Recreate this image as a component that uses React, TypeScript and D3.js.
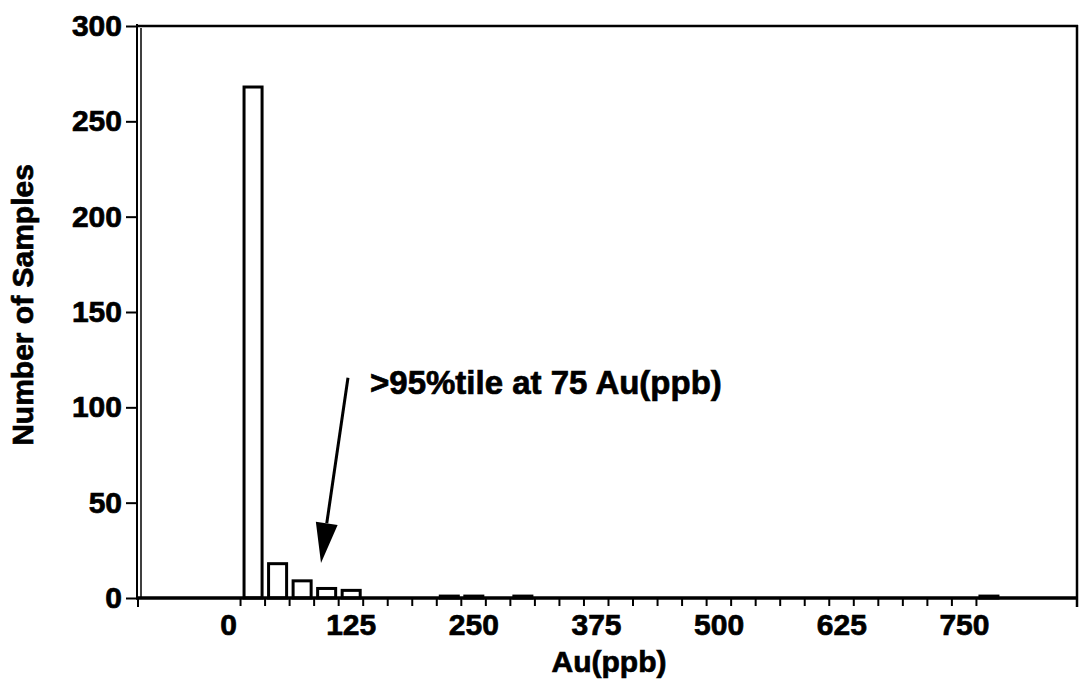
import React, { useEffect, useRef } from 'react'
import * as d3 from 'd3'

// histogram bins (lower edge, ppb) and counts
const binStarts = [0, 25, 50, 75, 100, 200, 225, 275, 750]
const counts = [268, 18, 9, 5, 4, 1, 1, 1, 1]
const binWidth = 25

const xTickValues = d3.range(0, 751, 25)
const xLabelValues = [0, 125, 250, 375, 500, 625, 750]
const yTickValues = [0, 50, 100, 150, 200, 250, 300]

// annotation, in data units
const noteText = '>95%tile at 75 Au(ppb)'
const noteAt = { x: 132.5, y: 107 }
const arrowFrom = { x: 110, y: 115.5 }
const arrowTo = { x: 82.5, y: 18.4 }

const font = '"Liberation Sans", Arial, sans-serif'

const App = () => {
  const ref = useRef<SVGSVGElement>(null)

  useEffect(() => {
    const svg = d3.select(ref.current)
    svg.selectAll('*').remove()

    const x = d3.scaleLinear().domain([-104, 853]).range([138, 1077])
    const y = d3.scaleLinear().domain([0, 300]).range([598, 26])

    const data = binStarts.map((b, i) => ({ start: b, count: counts[i] }))

    // bars
    svg.append('g')
      .selectAll('rect')
      .data(data)
      .join('rect')
        .attr('x', d => x(d.start) + 4)
        .attr('y', d => y(d.count))
        .attr('width', d => x(d.start + binWidth) - x(d.start) - 6.5)
        .attr('height', d => y(0) - y(d.count))
        .attr('fill', '#fff')
        .attr('stroke', '#000')
        .attr('stroke-width', 3)

    // x axis
    const xAxis = svg.append('g')
      .attr('transform', `translate(0, ${y(0)})`)
      .call(d3.axisBottom(x)
        .tickValues(xTickValues)
        .tickSize(8)
        .tickFormat(d => (xLabelValues.includes(+d) ? String(d) : '')))
    xAxis.select('.domain').remove()
    xAxis.selectAll('line').attr('stroke', '#000').attr('stroke-width', 2)
    xAxis.selectAll('text')
      .attr('y', 37)
      .attr('dy', 0)
      .attr('dx', -12)
      .attr('fill', '#000')
      .attr('stroke', '#000')
      .attr('stroke-width', 0.7)
      .style('font', `bold 30px ${font}`)

    // y axis
    const yAxis = svg.append('g')
      .attr('transform', `translate(138, 0)`)
      .call(d3.axisLeft(y).tickValues(yTickValues).tickSize(12).tickPadding(4))
    yAxis.select('.domain').remove()
    yAxis.selectAll('line').attr('stroke', '#000').attr('stroke-width', 2)
    yAxis.selectAll('text')
      .attr('fill', '#000')
      .attr('stroke', '#000')
      .attr('stroke-width', 0.7)
      .style('font', `bold 30px ${font}`)

    // frame
    const frame = svg.append('g').attr('stroke', '#000').attr('fill', 'none')
    frame.append('line')
      .attr('x1', 136).attr('x2', 1077).attr('y1', y(0)).attr('y2', y(0))
      .attr('stroke-width', 3.5)
    frame.append('line')
      .attr('x1', 137).attr('x2', 137).attr('y1', 24).attr('y2', y(0))
      .attr('stroke-width', 2)
    frame.append('line')
      .attr('x1', 141).attr('x2', 141).attr('y1', 28).attr('y2', y(0))
      .attr('stroke-width', 1.5)
    frame.append('line')
      .attr('x1', 137).attr('x2', 1078).attr('y1', 26).attr('y2', 26)
      .attr('stroke-width', 2.5)
    frame.append('line')
      .attr('x1', 1077).attr('x2', 1077).attr('y1', 25).attr('y2', y(0) + 9)
      .attr('stroke-width', 2.5)
    frame.append('line')
      .attr('x1', 138).attr('x2', 138).attr('y1', y(0)).attr('y2', y(0) + 9)
      .attr('stroke-width', 2)

    // axis titles
    svg.append('text')
      .attr('x', 609)
      .attr('y', 672)
      .attr('text-anchor', 'middle')
      .attr('stroke', '#000')
      .attr('stroke-width', 0.7)
      .style('font', `bold 30px ${font}`)
      .text('Au(ppb)')
    svg.append('text')
      .attr('transform', 'translate(33, 305) rotate(-90)')
      .attr('text-anchor', 'middle')
      .attr('stroke', '#000')
      .attr('stroke-width', 0.7)
      .style('font', `bold 30px ${font}`)
      .text('Number of Samples')

    // annotation arrow
    const x0 = x(arrowFrom.x), y0 = y(arrowFrom.y)
    const x1 = x(arrowTo.x), y1 = y(arrowTo.y)
    const len = Math.hypot(x1 - x0, y1 - y0)
    const ux = (x1 - x0) / len, uy = (y1 - y0) / len
    const headLen = 40, headHalf = 11
    const bx = x1 - ux * headLen, by = y1 - uy * headLen
    svg.append('line')
      .attr('x1', x0).attr('y1', y0).attr('x2', bx).attr('y2', by)
      .attr('stroke', '#000').attr('stroke-width', 3)
    svg.append('path')
      .attr('d', `M${x1},${y1}L${bx - uy * headHalf},${by + ux * headHalf}L${bx + uy * headHalf},${by - ux * headHalf}Z`)
      .attr('fill', '#000')
    svg.append('text')
      .attr('x', x(noteAt.x))
      .attr('y', y(noteAt.y))
      .attr('stroke', '#000')
      .attr('stroke-width', 0.7)
      .style('font', `bold 33px ${font}`)
      .text(noteText)
  }, [])

  return (
    <svg
      ref={ref}
      width={1082}
      height={682}
      style={{ position: 'absolute', left: 0, top: 0, background: '#fff' }}
    />
  )
}

export default App
